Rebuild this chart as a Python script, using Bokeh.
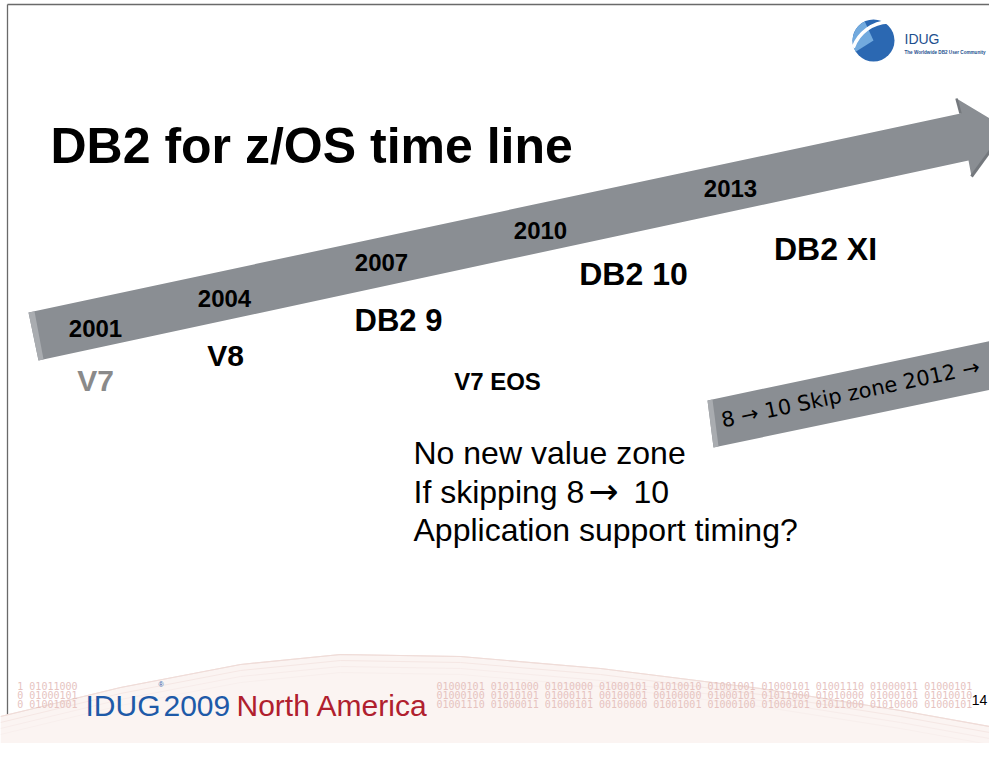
from bokeh.plotting import figure
from bokeh.models import Range1d, ColumnDataSource
from bokeh.embed import file_html
from bokeh.resources import INLINE
from bokeh.core.properties import value

# ---------------- data (slide pixel coordinates, y grows downward) -------------
title = "DB2 for z/OS time line"

years = ["2001", "2004", "2007", "2010", "2013"]
year_x = [95, 224, 381, 540, 730]
year_y = [328, 298, 262, 230, 188]

releases = ["V7", "V8", "DB2 9", "DB2 10", "DB2 XI", "V7 EOS"]
release_x = [95, 225, 398, 633, 825, 497]
release_y = [380, 355, 320, 273, 248, 381]
release_size = ["30px", "30px", "31px", "32px", "32px", "24px"]
release_color = ["#8a8a8a", "#000000", "#000000", "#000000", "#000000", "#000000"]

notes = ["No new value zone", "If skipping 8", "10", "Application support timing?"]
note_x = [413, 413, 633, 413]
note_base = [452, 491, 491, 529]
note_arrow = ["\u2192"]
note_arrow_x = [588]
note_arrow_y = [491]

skip_text = "8 \u2192 10 Skip zone 2012 \u2192"

# big timeline arrow outline
arrow_x = [28, 960, 956, 1006, 971, 968, 38]
arrow_y = [312, 113, 98, 128, 176, 160, 360]
arrow_face_x = [28, 34, 43, 38]
arrow_face_y = [312, 311, 359, 360]

# skip-zone arrow outline
skip_x = [707, 997, 992, 1045, 1008, 1005, 713]
skip_y = [400, 339, 325, 362, 402, 386, 447]
skip_face_x = [707, 712, 718, 713]
skip_face_y = [400, 399, 446, 447]

# banner
bin_left = ["1 01011000", "0 01000101", "0 01001001"]
bin_right = [
    "01000101 01011000 01010000 01000101 01010010 01001001 01000101 01001110 01000011 01000101",
    "01000100 01010101 01000111 00100001 00100000 01000101 01011000 01010000 01000101 01010010",
    "01001110 01000011 01000101 00100000 01001001 01000100 01000101 01011000 01010000 01000101",
]
bin_y = [686, 695, 704]
banner_words = ["IDUG", "2009", "North America"]
banner_x = [85, 163, 236]
banner_color = ["#1e5aa8", "#1e5aa8", "#b0202e"]
banner_base = 705

swoosh_x = [0, 120, 240, 340, 460, 600, 760, 900, 989, 989, 0]
swoosh_y = [716, 687, 664, 654, 656, 668, 688, 710, 726, 743, 743]

# ---------------- figure -------------
p = figure(width=989, height=743, x_range=Range1d(0, 989), y_range=Range1d(743, 0),
           output_backend="svg", toolbar_location=None, min_border=0,
           x_axis_type=None, y_axis_type=None)
p.grid.visible = False
p.outline_line_color = None
p.background_fill_color = "white"
p.border_fill_color = "white"

F = value("Liberation Sans")
DV = value("DejaVu Sans")

# slide frame
p.line([7, 7], [4, 743], line_color="#6a6a6a", line_width=1.3)
p.line([7, 989], [4, 4], line_color="#6a6a6a", line_width=1.3)

# bottom swoosh
p.patch(swoosh_x, swoosh_y, fill_color="#fbf4f2", line_color=None)
for k, c in enumerate(["#f3e2de", "#f5e7e4", "#f7ecea", "#f8efed"]):
    p.line(swoosh_x[:9], [v + 6 * k for v in swoosh_y[:9]], line_color=c, line_width=1)
p.line(swoosh_x[:9], swoosh_y[:9], line_color="#efdcd8", line_width=1.2)

# IDUG logo (top right)
p.scatter([873], [40], size=42, marker="circle", fill_color="#2b68b2", line_color=None)
p.wedge([873], [40], radius=21, start_angle=2.0, end_angle=3.7, fill_color="#72aade", line_color=None)
p.arc([889], [60], radius=38.5, start_angle=1.6, end_angle=2.8, line_color="white", line_width=3.5)
p.text([904], [38], text=["IDUG"], text_font=F, text_font_size="14px", text_color="#1d4f8e",
       text_baseline="middle", text_align="left")
p.text([904], [52], text=["The Worldwide DB2 User Community"], text_font=F, text_font_size="4.6px",
       text_font_style="bold", text_color="#1d4f8e", text_baseline="middle", text_align="left")

# title
p.text([50], [145], text=[title], text_font=F, text_font_size="50px", text_font_style="bold",
       text_color="black", text_align="left", text_baseline="alphabetic")

# big arrow
p.patch(arrow_x, arrow_y, fill_color="#8a8e93", line_color=None)
p.patch(arrow_face_x, arrow_face_y, fill_color="#a9acb0", line_color=None)
p.line([1006, 971], [128, 176], line_color="#74787d", line_width=3)
p.line([956, 960], [98, 113], line_color="#74787d", line_width=2.5)

# skip arrow
p.patch(skip_x, skip_y, fill_color="#8a8e93", line_color=None)
p.patch(skip_face_x, skip_face_y, fill_color="#a9acb0", line_color=None)
p.line([992, 997], [325, 339], line_color="#74787d", line_width=2.5)
p.text([850], [393], text=[skip_text], text_font=DV, text_font_size="21px", text_color="black",
       text_align="center", text_baseline="middle", angle=0.207)

# year labels on arrow
ysrc = ColumnDataSource(dict(x=year_x, y=year_y, t=years))
p.text("x", "y", text="t", source=ysrc, text_font=F, text_font_size="24px", text_font_style="bold",
       text_color="black", text_align="center", text_baseline="middle")

# release labels
rsrc = ColumnDataSource(dict(x=release_x, y=release_y, t=releases, s=release_size, c=release_color))
p.text("x", "y", text="t", source=rsrc, text_font=F, text_font_size="s", text_font_style="bold",
       text_color="c", text_align="center", text_baseline="middle")

# notes
nsrc = ColumnDataSource(dict(x=note_x, y=note_base, t=notes))
p.text("x", "y", text="t", source=nsrc, text_font=F, text_font_size="32px", text_color="black",
       text_align="left", text_baseline="alphabetic")
p.text(note_arrow_x, note_arrow_y, text=note_arrow, text_font=DV, text_font_size="36px",
       text_color="black", text_align="left", text_baseline="alphabetic")

# banner
MF = value("DejaVu Sans Mono")
p.text([77] * 3, bin_y, text=bin_left, text_font=MF, text_font_size="10px", text_color="#e6c3bf",
       text_align="right", text_baseline="middle")
p.text([436] * 3, bin_y, text=bin_right, text_font=MF, text_font_size="10px", text_color="#e6c3bf",
       text_align="left", text_baseline="middle")
bsrc = ColumnDataSource(dict(x=banner_x, y=[banner_base] * 3, t=banner_words, c=banner_color))
p.text("x", "y", text="t", source=bsrc, text_font=F, text_font_size="30px", text_color="c",
       text_align="left", text_baseline="alphabetic")
p.text([158], [684], text=["\u00ae"], text_font=F, text_font_size="7px", text_color="#1e5aa8",
       text_align="left", text_baseline="middle")
p.text([979], [699], text=["14"], text_font=F, text_font_size="14px", text_color="black",
       text_align="center", text_baseline="middle")

open("out.html", "w").write(file_html(p, INLINE))
